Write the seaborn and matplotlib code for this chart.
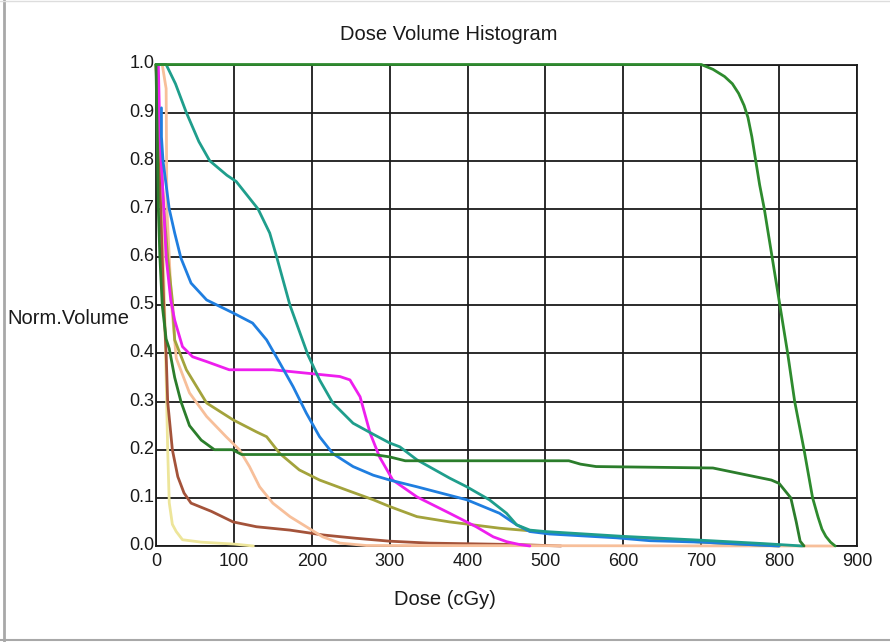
import pandas as pd
import seaborn as sns
import matplotlib.pyplot as plt
import matplotlib.transforms as mtransforms
from matplotlib.lines import Line2D

# dose (cGy) / normalised volume pairs
target_dose = [0, 700, 715, 730, 740, 748, 755, 760, 765, 770, 775, 781, 791, 801, 811, 820, 832, 843, 850, 855, 860, 866, 872]
target_vol = [1.0, 1.0, 0.99, 0.975, 0.96, 0.94, 0.915, 0.89, 0.85, 0.8, 0.75, 0.7, 0.6, 0.5, 0.4, 0.3, 0.2, 0.1, 0.06, 0.035, 0.02, 0.008, 0.0]

green_dose = [0, 1, 2, 3, 5, 8, 13, 17, 24, 32, 43, 58, 75, 98, 110, 280, 300, 320, 530, 545, 565, 715, 760, 790, 800, 810, 815, 822, 827, 832]
green_vol = [1.0, 0.9, 0.8, 0.7, 0.6, 0.5, 0.43, 0.41, 0.35, 0.3, 0.25, 0.22, 0.2, 0.2, 0.19, 0.19, 0.185, 0.177, 0.177, 0.17, 0.165, 0.162, 0.147, 0.137, 0.13, 0.11, 0.1, 0.05, 0.01, 0.0]

teal_dose = [0, 13, 25, 39, 55, 69, 91, 103, 131, 146, 155, 172, 195, 210, 227, 253, 279, 300, 313, 335, 377, 399, 428, 450, 463, 480, 500, 550, 600, 700, 780, 830]
teal_vol = [1.0, 1.0, 0.96, 0.9, 0.84, 0.8, 0.77, 0.757, 0.7, 0.65, 0.6, 0.5, 0.397, 0.345, 0.297, 0.255, 0.232, 0.214, 0.206, 0.179, 0.141, 0.123, 0.096, 0.068, 0.044, 0.033, 0.03, 0.025, 0.02, 0.012, 0.005, 0.0]

blue_dose = [7, 7, 9, 17, 24, 32, 45, 65, 99, 124, 142, 159, 176, 193, 210, 227, 253, 279, 300, 335, 399, 441, 463, 480, 505, 591, 634, 700, 760, 800]
blue_vol = [0.91, 0.85, 0.8, 0.7, 0.65, 0.598, 0.546, 0.511, 0.484, 0.463, 0.428, 0.38, 0.331, 0.276, 0.227, 0.192, 0.165, 0.147, 0.137, 0.123, 0.096, 0.068, 0.044, 0.03, 0.025, 0.017, 0.011, 0.008, 0.003, 0.0]

magenta_dose = [3, 5, 10, 13, 19, 24, 34, 47, 65, 94, 150, 193, 236, 249, 262, 275, 287, 304, 335, 377, 411, 433, 450, 467, 480]
magenta_vol = [1.0, 0.85, 0.7, 0.6, 0.51, 0.469, 0.414, 0.393, 0.383, 0.366, 0.366, 0.359, 0.352, 0.345, 0.31, 0.234, 0.185, 0.137, 0.102, 0.068, 0.04, 0.019, 0.009, 0.003, 0.0]

olive_dose = [0, 5, 10, 15, 21, 24, 39, 65, 99, 129, 142, 159, 184, 210, 245, 279, 300, 335, 377, 441, 505, 591, 634, 700, 760, 800]
olive_vol = [1.0, 0.85, 0.7, 0.6, 0.51, 0.428, 0.366, 0.297, 0.262, 0.237, 0.227, 0.192, 0.158, 0.137, 0.116, 0.096, 0.082, 0.061, 0.05, 0.037, 0.028, 0.019, 0.016, 0.008, 0.003, 0.0]

peach_dose = [8, 13, 14, 17, 20, 26, 43, 65, 90, 107, 120, 133, 150, 172, 193, 214, 236, 270, 870]
peach_vol = [1.0, 0.95, 0.7, 0.6, 0.5, 0.39, 0.318, 0.269, 0.227, 0.2, 0.165, 0.123, 0.089, 0.061, 0.04, 0.019, 0.006, 0.001, 0.0]

brown_dose = [0, 3, 6, 10, 13, 15, 18, 21, 28, 36, 45, 71, 99, 129, 172, 214, 257, 300, 351, 463, 520]
brown_vol = [1.0, 0.85, 0.7, 0.5, 0.4, 0.3, 0.25, 0.2, 0.144, 0.11, 0.089, 0.072, 0.05, 0.04, 0.033, 0.023, 0.016, 0.01, 0.006, 0.003, 0.0]

khaki_dose = [0, 4, 8, 11, 13, 15, 17, 21, 26, 34, 58, 100, 125]
khaki_vol = [1.0, 0.9, 0.7, 0.5, 0.35, 0.2, 0.09, 0.045, 0.03, 0.013, 0.008, 0.004, 0.0]

structures = {
    "khaki": (khaki_dose, khaki_vol),
    "brown": (brown_dose, brown_vol),
    "peach": (peach_dose, peach_vol),
    "olive": (olive_dose, olive_vol),
    "magenta": (magenta_dose, magenta_vol),
    "blue": (blue_dose, blue_vol),
    "teal": (teal_dose, teal_vol),
    "green": (green_dose, green_vol),
    "target": (target_dose, target_vol),
}
colors = {
    "khaki": "#ede59a",
    "brown": "#a4533a",
    "peach": "#f7bf9a",
    "olive": "#a3a33c",
    "magenta": "#ee1eee",
    "blue": "#1f7ee0",
    "teal": "#1f9e8c",
    "green": "#2b7d2b",
    "target": "#2e8b2e",
}

frames = []
for name, (d, v) in structures.items():
    frames.append(pd.DataFrame({"dose": d, "volume": v, "structure": name}))
df = pd.concat(frames, ignore_index=True)

sns.set_style("white")
plt.rcParams["font.family"] = ["Liberation Sans", "DejaVu Sans"]

fig = plt.figure(figsize=(8.9, 6.42), dpi=100)
ax = fig.add_axes([156 / 890, 1 - 546 / 642, 701 / 890, 481.5 / 642])

sns.lineplot(
    data=df, x="dose", y="volume", hue="structure", palette=colors,
    estimator=None, sort=False, legend=False, linewidth=2, ax=ax,
)
# curves sit on top of the frame, as in the screenshot
for line in ax.get_lines():
    line.set_clip_on(False)
    line.set_zorder(4)

ax.set_xlim(0, 900)
ax.set_ylim(0, 1.0)
ax.set_xticks(range(0, 901, 100))
ax.set_yticks([i / 10 for i in range(11)])
ax.set_yticklabels([f"{i / 10:.1f}" for i in range(11)])
ax.grid(True, color="#1a1a1a", linewidth=1.3)
ax.set_axisbelow(True)
for s in ax.spines.values():
    s.set_color("#1a1a1a")
    s.set_linewidth(1.3)
ax.tick_params(length=0, labelsize=13, colors="#1a1a1a")
ax.tick_params(axis="y", pad=1)
ax.tick_params(axis="x", pad=5)

# y labels sit a touch above their grid lines in the original
shift = mtransforms.ScaledTranslation(0, 2.5 / 100, fig.dpi_scale_trans)
for lbl in ax.get_yticklabels():
    lbl.set_transform(lbl.get_transform() + shift)

ax.set_xlabel("Dose (cGy)", fontsize=14.5, color="#1a1a1a")
ax.set_ylabel("Norm.Volume", fontsize=14.5, rotation=0, color="#1a1a1a")
ax.xaxis.set_label_coords(0.412, -0.112)
ax.yaxis.set_label_coords(-0.1255, 0.4735)
ax.yaxis.label.set_ha("center")
ax.yaxis.label.set_va("center")
ax.xaxis.label.set_va("center")

fig.text(449 / 890, 1 - 35 / 642, "Dose Volume Histogram", ha="center", va="center",
         fontsize=14.5, color="#1a1a1a")

# window frame lines from the screenshot
fig.add_artist(Line2D([4 / 890, 4 / 890], [0, 1], color="#a8a8a8", linewidth=2))
fig.add_artist(Line2D([0, 1], [2 / 642, 2 / 642], color="#a8a8a8", linewidth=1.5))
fig.add_artist(Line2D([0, 1], [641 / 642, 641 / 642], color="#dddddd", linewidth=1))

fig.savefig("out.png", dpi=100)
